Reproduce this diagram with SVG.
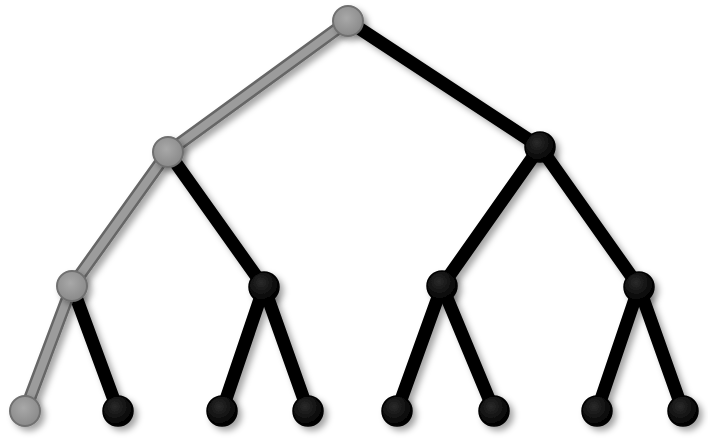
<svg xmlns="http://www.w3.org/2000/svg" width="708" height="441" viewBox="0 0 708 441">
<defs>
<filter id="sh" x="-20%" y="-20%" width="140%" height="140%">
<feDropShadow dx="4" dy="4" stdDeviation="3" flood-color="#000" flood-opacity="0.35"/>
</filter>
<radialGradient id="gg" cx="45%" cy="40%" r="60%">
<stop offset="0" stop-color="#a8a8a8"/>
<stop offset="1" stop-color="#8a8a8a"/>
</radialGradient>
<radialGradient id="bg" cx="40%" cy="35%" r="65%">
<stop offset="0" stop-color="#2a2a2a"/>
<stop offset="1" stop-color="#000"/>
</radialGradient>
</defs>
<style>
.eb{stroke:#000;stroke-width:13;stroke-linecap:round}
.eg{stroke:#666;stroke-width:13;stroke-linecap:round}
.egi{stroke:#9c9c9c;stroke-width:8;stroke-linecap:round}
.ng{fill:url(#gg);stroke:#707070;stroke-width:2}
.nb{fill:url(#bg);stroke:#000;stroke-width:1.5}
</style>
<rect width="708" height="441" fill="#fff"/>
<g id="connectors" filter="url(#sh)">
<line class="eb" x1="348" y1="21" x2="540" y2="147"/>
<line class="eb" x1="168" y1="152" x2="264" y2="287"/>
<line class="eb" x1="540" y1="147" x2="442" y2="286"/>
<line class="eb" x1="540" y1="147" x2="639" y2="287"/>
<line class="eb" x1="72" y1="286" x2="118" y2="411"/>
<line class="eb" x1="264" y1="287" x2="222" y2="411"/>
<line class="eb" x1="264" y1="287" x2="308" y2="411"/>
<line class="eb" x1="442" y1="286" x2="397" y2="411"/>
<line class="eb" x1="442" y1="286" x2="494" y2="411"/>
<line class="eb" x1="639" y1="287" x2="597" y2="411"/>
<line class="eb" x1="639" y1="287" x2="683" y2="411"/>
<line class="eg" x1="348" y1="21" x2="168" y2="152"/>
<line class="eg" x1="168" y1="152" x2="72" y2="286"/>
<line class="eg" x1="72" y1="286" x2="25" y2="411"/>
<line class="egi" x1="348" y1="21" x2="168" y2="152"/>
<line class="egi" x1="168" y1="152" x2="72" y2="286"/>
<line class="egi" x1="72" y1="286" x2="25" y2="411"/>
</g>
<g filter="url(#sh)">
<g id="n1"><circle class="ng" cx="348" cy="21" r="15"/></g>
<g id="n2"><circle class="ng" cx="168" cy="152" r="15"/></g>
<g id="n3"><circle class="nb" cx="540" cy="147" r="15"/></g>
<g id="n4"><circle class="ng" cx="72" cy="286" r="15"/></g>
<g id="n5"><circle class="nb" cx="264" cy="287" r="15"/></g>
<g id="n6"><circle class="nb" cx="442" cy="286" r="15"/></g>
<g id="n7"><circle class="nb" cx="639" cy="287" r="15"/></g>
<g id="n8"><circle class="ng" cx="25" cy="411" r="15"/></g>
<g id="n9"><circle class="nb" cx="118" cy="411" r="15"/></g>
<g id="n10"><circle class="nb" cx="222" cy="411" r="15"/></g>
<g id="n11"><circle class="nb" cx="308" cy="411" r="15"/></g>
<g id="n12"><circle class="nb" cx="397" cy="411" r="15"/></g>
<g id="n13"><circle class="nb" cx="494" cy="411" r="15"/></g>
<g id="n14"><circle class="nb" cx="597" cy="411" r="15"/></g>
<g id="n15"><circle class="nb" cx="683" cy="411" r="15"/></g>
</g>
</svg>
